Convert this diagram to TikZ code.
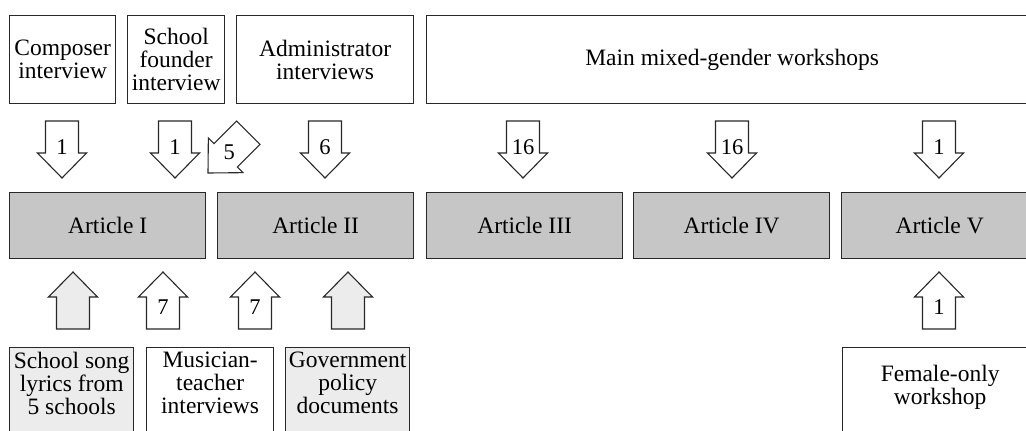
\documentclass[tikz,border=0pt]{standalone}
\usepackage{fontspec}
\setmainfont{Liberation Serif}
\usetikzlibrary{calc}
\definecolor{artgray}{RGB}{198,198,198}
\definecolor{lightfill}{RGB}{236,236,236}
\definecolor{edge}{RGB}{40,40,40}
\newcommand\bodyfont{\fontsize{23.5bp}{23bp}\selectfont}
\newcommand\numfont{\fontsize{22.5bp}{24bp}\selectfont}
\tikzset{
  arrowfill/.initial=white,
  box/.style={draw=edge, line width=1.3bp, align=center, font=\bodyfont, inner sep=0pt, anchor=north west},
  artbox/.style={box, fill=artgray},
  txt/.style={align=center, font=\bodyfont, inner sep=0pt},
  fat/.style={draw=edge, line width=1.1bp, line join=miter},
  pics/fatarrow/.style 2 args={code={
    \path[fat, fill=\pgfkeysvalueof{/tikz/arrowfill}] (-16.5,-57) -- (16.5,-57) -- (16.5,-25) -- (24.5,-25)
      -- (0,0) -- (-24.5,-25) -- (-16.5,-25) -- cycle;
    \node[font=\numfont, inner sep=0pt] (-n) at (0,-#2) {#1};
  }}
}
\begin{document}
\begin{tikzpicture}[x=1bp, y=-1bp]
\useasboundingbox (0,0) rectangle (1026,430);
\clip (0,0) rectangle (1026,430);
% top row sources
\node[box, minimum width=106bp, minimum height=88bp] (comp) at (9,15) {Composer\\interview};
\node[box, minimum width=97bp, minimum height=88bp] (found) at (127,15) {School\\founder\\interview};
\node[box, minimum width=177bp, minimum height=88bp] (admin) at (236,15) {Administrator\\interviews};
\node[box, minimum width=611bp, minimum height=88bp] (main) at (426,15) {Main mixed-gender workshops};
% articles
\node[artbox, minimum width=196bp, minimum height=66bp] (a1) at (9,192) {Article I};
\node[artbox, minimum width=196bp, minimum height=66bp] (a2) at (217,192) {Article II};
\node[artbox, minimum width=196bp, minimum height=66bp] (a3) at (426,192) {Article III};
\node[artbox, minimum width=196bp, minimum height=66bp] (a4) at (633,192) {Article IV};
\node[artbox, minimum width=196bp, minimum height=66bp] (a5) at (841,192) {Article V};
% bottom sources
\node[box, fill=lightfill, minimum width=124bp, minimum height=100bp] (song) at (9,347) {};
\node[txt] (songt) at ($(song.north)+(0,36)$) {School song\\lyrics from\\5 schools};
\node[box, minimum width=127bp, minimum height=100bp] (mus) at (146,347) {};
\node[txt] (must) at ($(mus.north)+(0,36)$) {Musician-\\teacher\\interviews};
\node[box, fill=lightfill, minimum width=124bp, minimum height=100bp] (gov) at (285,347) {};
\node[txt] (govt) at ($(gov.north)+(0,36)$) {Government\\policy\\documents};
\node[box, minimum width=195bp, minimum height=100bp] (fem) at (842,347) {};
\node[txt] (femt) at ($(fem.north)+(0,40)$) {Female-only\\workshop};
% down arrows
\pic (d1) at (62,178) {fatarrow={1}{31}};
\pic (d2) at (175,178) {fatarrow={1}{31}};
\pic[rotate=-45] (d3) at (208,173) {fatarrow={5}{30}};
\pic (d4) at (325,178) {fatarrow={6}{31}};
\pic (d5) at (523,178) {fatarrow={16}{31}};
\pic (d6) at (732,178) {fatarrow={16}{31}};
\pic (d7) at (939,178) {fatarrow={1}{31}};
% up arrows
\pic[rotate=180, arrowfill=lightfill] (u1) at (73,272) {fatarrow={}{35}};
\pic[rotate=180] (u2) at (163,272) {fatarrow={7}{35}};
\pic[rotate=180] (u3) at (255,272) {fatarrow={7}{35}};
\pic[rotate=180, arrowfill=lightfill] (u4) at (348,272) {fatarrow={}{35}};
\pic[rotate=180] (u5) at (939,272) {fatarrow={1}{35}};
\end{tikzpicture}
\end{document}
